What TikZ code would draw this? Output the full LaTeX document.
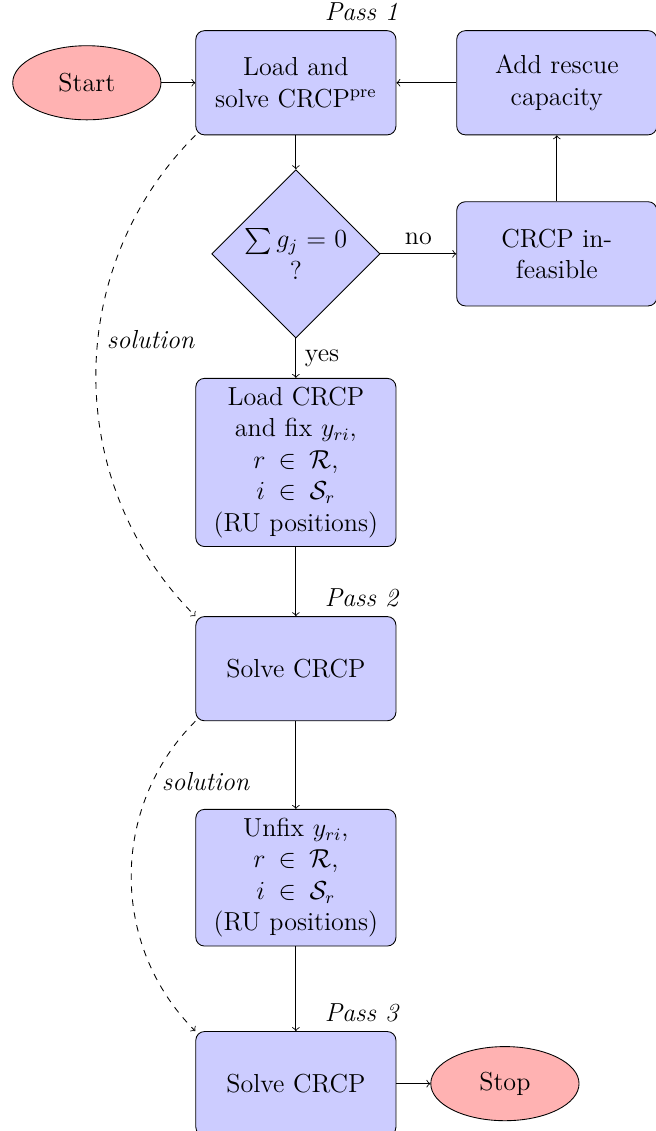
\documentclass[tikz,border=0pt,12pt]{standalone}
\usepackage{amsmath}
\usepackage{tikz}
\usetikzlibrary{shapes.geometric, positioning}

\begin{document}
\begin{tikzpicture}[
    node distance=0.55cm and 0.55cm,
    block/.style={rectangle, draw, fill=blue!20, text width=2.75cm,
                  minimum width=3.24cm, align=center, rounded corners,
                  minimum height=4em},
    decision/.style={diamond, draw, fill=blue!20, text width=4.5em,
                     align=center, inner sep=0pt},
    terminal/.style={ellipse, draw, fill=red!30, minimum width=2.4cm,
                     minimum height=1.2cm},
    passlbl/.style={font=\itshape, anchor=south east, xshift=5pt},
    arrow/.style={->},
    dasharrow/.style={->, dashed},
]
\useasboundingbox (-4.79,1.34) rectangle (5.82,-16.97);

% ── Pass 1 ──
\node[block] (load) at (0,0) {Load and\\ solve CRCP$^{\mathrm{pre}}$};
\node[terminal, left=0.55cm of load] (start) {Start};
\node[block, right=0.97cm of load] (rescue) {Add rescue capacity};
\node[decision, below=0.55cm of load] (check) {$\sum g_j = 0$\\?};
\node[block] (infeas) at (check -| rescue) {CRCP in-\\feasible};
\node[block, below=0.64cm of check]
    (fix) {Load CRCP and fix $y_{ri}$,\\ $r \in \mathcal{R}$,\\
           $i \in \mathcal{S}_r$\\ (RU positions)};

% ── Pass 2 ──
\node[block, below=1.12cm of fix] (solve2) {Solve CRCP};
\node[block, below=1.42cm of solve2]
    (unfix) {Unfix $y_{ri}$,\\ $r \in \mathcal{R}$,\\
             $i \in \mathcal{S}_r$\\ (RU positions)};

% ── Pass 3 ──
\node[block, below=1.37cm of unfix] (solve3) {Solve CRCP};
\node[terminal, right=0.55cm of solve3] (stop) {Stop};

\node[passlbl] (pass1) at (load.north east) {Pass 1};
\node[passlbl] (pass2) at (solve2.north east) {Pass 2};
\node[passlbl] (pass3) at (solve3.north east) {Pass 3};

% ── Arrows ──
\draw[arrow] (start) -- (load);
\draw[arrow] (rescue) -- (load);
\draw[arrow] (load) -- (check);
\draw[arrow] (check) -- node[above] {no} (infeas);
\draw[arrow] (infeas) -- (rescue);
\draw[arrow] (check) -- node[right] {yes} (fix);
\draw[arrow] (fix) -- (solve2);
\draw[arrow] (solve2) -- (unfix);
\draw[arrow] (unfix) -- (solve3);
\draw[arrow] (solve3) -- (stop);
\draw[dasharrow] (load.south west) to[bend right=45]
    node[pos=0.43, right] {\textit{solution}} (solve2.north west);
\draw[dasharrow] (solve2.south west) to[bend right=45]
    node[pos=0.21, right] {\textit{solution}} (solve3.north west);
\end{tikzpicture}
\end{document}
